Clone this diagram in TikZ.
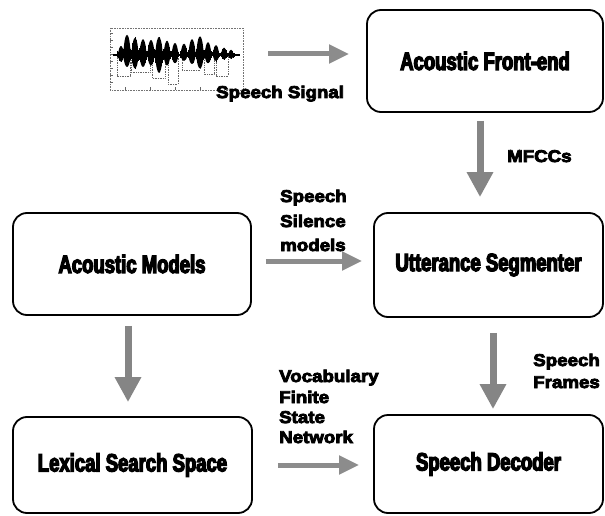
\documentclass[tikz,border=0pt]{standalone}
\usepackage{fontspec}
\usetikzlibrary{arrows.meta}
\setmainfont{Liberation Sans}
\newfontfamily\boxfont{Liberation Sans}[FakeStretch=0.74,BoldFeatures={FakeBold=5}]
\newfontfamily\labfont{Liberation Sans}[FakeStretch=1.1,BoldFeatures={FakeBold=5}]
\begin{document}
\begin{tikzpicture}[x=1pt,y=-1pt,
  block/.style={draw,line width=1.8pt,rounded corners=14pt,inner sep=0pt,
    font=\boxfont\bfseries\fontsize{25}{28}\selectfont},
  lab/.style={anchor=base west,inner sep=0pt,font=\labfont\bfseries\fontsize{17}{19}\selectfont},
  vflow/.style={draw=black!48,line width=7pt,-{Triangle[length=25pt,width=25pt]}},
  hflow/.style={draw=black!45,line width=5pt,-{Triangle[length=20pt,width=18pt]}}]
\useasboundingbox (0,0) rectangle (605,516);

% processing blocks
\node[block,minimum width=236pt,minimum height=102pt] (fe) at (485,61) {Acoustic Front-end};
\node[block,minimum width=229pt,minimum height=104pt] (us) at (488.5,265) {Utterance Segmenter};
\node[block,minimum width=229pt,minimum height=98pt] (sd) at (488.5,464) {Speech Decoder};
\node[block,minimum width=238pt,minimum height=102pt] (am) at (132,264) {Acoustic Models};
\node[block,minimum width=239pt,minimum height=96pt] (ls) at (132.5,465) {Lexical Search Space};

% speech waveform thumbnail
\draw[black!55,densely dotted,line width=0.6pt] (110,28) rectangle (243,90);
\foreach \t in {33,40,47,54,61,68,75,82}{\draw[black!60,line width=0.5pt] (110,\t) -- (113,\t);}
\foreach \t in {125,150,175,200,225}{\draw[black!60,line width=0.5pt] (\t,90) -- (\t,87);}
\draw[black!60,densely dotted,line width=0.7pt]
  (117,55) -- (117,76) -- (130,76) -- (130,55)
  (131,55) -- (131,72) -- (150,72) -- (150,55)
  (152,55) -- (152,78) -- (165,78) -- (165,55)
  (168,55) -- (168,84) -- (178,84) -- (178,55)
  (182,55) -- (182,70) -- (200,70) -- (200,55)
  (204,55) -- (204,74) -- (214,74) -- (214,55)
  (216,55) -- (216,76) -- (228,76) -- (228,55);
\foreach \cx/\up/\dn/\w in {121/12/9/3,127/27/16/3.8,135/23/18/3.6,143/21/16/3.6,
  151/20/14/3.6,159/24/24/3.8,167/19/14/3.4,175/16/11/3.4,184/15/8/3.4,
  192/21/12/3.6,200/25/18/3.8,208/17/11/3.4,216/13/8/3.2,224/10/6/3,231/7/5/2.6}{
  \fill (\cx-\w,55) .. controls (\cx-\w*0.6,55-\up) and (\cx+\w*0.6,55-\up) .. (\cx+\w,55)
    .. controls (\cx+\w*0.6,55+\dn) and (\cx-\w*0.6,55+\dn) .. cycle;}
% jagged spikes over the bursts
\pgfmathsetseed{7}
\foreach \cx/\up/\dn in {121/12/9,127/27/16,135/23/18,143/21/16,151/20/14,159/24/24,
  167/19/14,175/16/11,184/15/8,192/21/12,200/25/18,208/17/11,216/13/8,224/10/6,231/7/5}{
  \foreach \k in {-3,-2,...,3}{
    \pgfmathsetmacro{\hu}{\up*(0.35+0.5*rnd)*(1-abs(\k)/5)}
    \pgfmathsetmacro{\hd}{\dn*(0.35+0.5*rnd)*(1-abs(\k)/5)}
    \draw[line width=0.9pt] (\cx+\k*1.1,55-\hu) -- (\cx+\k*1.1,55+\hd);}}
\draw[line width=1.6pt] (113,55) -- (240,55);
\coordinate (sig) at (262,54);

% labels
\node[lab] (l1) at (216,98) {Speech Signal};
\node[lab] (l2) at (507,162) {MFCCs};
\node[lab] (l3) at (280,202) {Speech};
\node[lab] (l4) at (280,227) {Silence};
\node[lab] (l5) at (280,251) {models};
\node[lab] (l6) at (279,382) {Vocabulary};
\node[lab] (l7) at (279,403) {Finite};
\node[lab] (l8) at (279,423) {State};
\node[lab] (l9) at (279,443) {Network};
\node[lab,anchor=base east] (l10) at (600,366) {Speech};
\node[lab,anchor=base east] (l11) at (600,388) {Frames};

% data flow
\draw[hflow,shorten <=6pt,shorten >=17pt] (sig) -- (fe.west |- sig);
\draw[vflow,shorten <=8pt,shorten >=15pt] ([xshift=-5pt]fe.south) -- ([xshift=-5pt]fe.south |- us.north);
\draw[hflow,shorten <=14pt,shorten >=11pt] ([yshift=3pt]am.east) -- ([yshift=3pt]am.east -| us.west);
\draw[vflow,shorten <=10pt,shorten >=14pt] ([xshift=-4pt]am.south) -- ([xshift=-4pt]am.south |- ls.north);
\draw[vflow,shorten <=15pt,shorten >=5pt] ([xshift=4.5pt]us.south) -- ([xshift=4.5pt]us.south |- sd.north);
\draw[hflow,shorten <=25pt,shorten >=14pt] (ls.east) -- (ls.east -| sd.west);
\end{tikzpicture}
\end{document}
